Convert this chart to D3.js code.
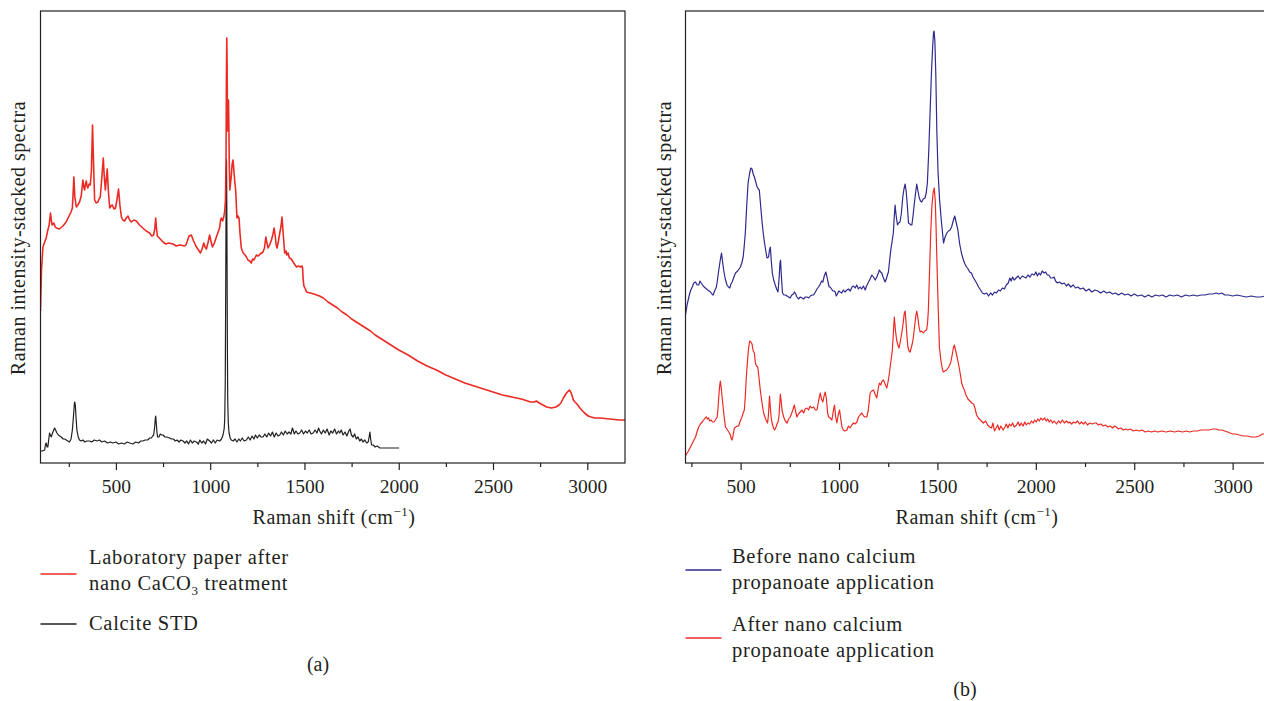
<!DOCTYPE html>
<html>
<head>
<meta charset="utf-8">
<script src="https://cdn.jsdelivr.net/npm/d3@7/dist/d3.min.js"></script>
<style>
  body { margin: 0; background: #fff; }
  text { font-family: "Liberation Serif", "DejaVu Serif", serif; fill: #231f20; }
</style>
</head>
<body>
<svg id="chart" width="1264" height="701"></svg>
<script>
// x ticks every 250 cm-1, labels only on multiples of 500
const tickValues = [250, 500, 750, 1000, 1250, 1500, 1750, 2000, 2250, 2500, 2750, 3000];

// panel (a) - laboratory paper after nano CaCO3 treatment, [shift, intensity]
const labPaper = [[100,150],[105,190],[113,214],[122,219],[130,223],[139,231],[146,236],[153,248],[158,240],[162,236],[171,238],[178,234],[184,233],[200,232],[219,235],[236,239],[254,246],[262,249],[269,253],[273,268],[277,284],[282,264],[290,254],[298,256],[307,259],[316,265],[325,281],[330,274],[334,271],[339,277],[343,280],[347,275],[351,273],[358,277],[364,276],[370,290],[376,336],[381,300],[387,261],[395,258],[404,259],[411,262],[417,264],[426,285],[433,303],[438,285],[444,271],[449,282],[454,292],[460,270],[467,253],[474,255],[481,256],[490,252],[498,253],[506,262],[514,272],[521,256],[529,244],[537,241],[546,240],[555,243],[564,245],[573,241],[582,239],[595,241],[608,240],[625,236],[643,233],[660,230],[679,228],[690,225],[700,226],[706,232],[711,243],[715,233],[720,225],[735,222],[750,219],[765,217],[780,218],[803,217],[820,215],[840,216],[865,215],[871,216],[877,219],[888,225],[900,226],[912,220],[927,214],[938,211],[948,208],[957,212],[966,218],[973,214],[980,212],[988,218],[997,226],[1004,220],[1012,214],[1022,218],[1033,224],[1042,229],[1050,233],[1055,241],[1059,243],[1066,240],[1072,244],[1077,250],[1081,261],[1084,300],[1086,380],[1088,423],[1090,390],[1092,330],[1095,345],[1097,361],[1099,335],[1101,300],[1104,271],[1108,278],[1112,285],[1116,296],[1121,301],[1126,290],[1130,280],[1135,271],[1139,255],[1142,243],[1148,245],[1153,243],[1158,228],[1165,213],[1175,208],[1185,206],[1192,204],[1200,201],[1210,200],[1218,198],[1225,202],[1232,201],[1245,206],[1255,205],[1265,207],[1280,209],[1288,213],[1295,224],[1300,219],[1307,213],[1315,216],[1325,221],[1332,226],[1339,233],[1345,225],[1350,216],[1355,213],[1362,220],[1369,228],[1375,234],[1381,244],[1388,225],[1395,208],[1402,210],[1406,206],[1413,208],[1420,203],[1430,202],[1440,199],[1450,196],[1458,194],[1468,195],[1479,194],[1487,195],[1490,193],[1493,182],[1497,175],[1505,172],[1511,169],[1530,168],[1550,167],[1564,166],[1580,165],[1600,163],[1625,159],[1650,156],[1675,153],[1700,149],[1725,146],[1750,142],[1775,139],[1800,136],[1825,133],[1850,130],[1875,126],[1900,123],[1925,120],[1950,117],[1975,114],[2000,111],[2050,106],[2100,100],[2150,95],[2200,91],[2250,86],[2300,82],[2350,78],[2400,75],[2450,72],[2500,69],[2550,66],[2600,64],[2650,62],[2700,59],[2720,59],[2730,60],[2745,58],[2765,56],[2784,54],[2810,53],[2834,54],[2850,56],[2860,58],[2873,63],[2890,68],[2905,71],[2912,69],[2920,65],[2926,61],[2935,59],[2945,57],[2961,53],[2975,50],[2985,48],[3005,45],[3020,44],[3040,43],[3067,43],[3120,42],[3170,41],[3200,41]];

// panel (a) - calcite standard
const calciteStd = [[100,10],[110,10],[122,11],[126,16],[130,18],[135,14],[139,14],[144,22],[148,28],[152,26],[157,24],[162,27],[166,29],[170,31],[175,33],[180,31],[187,28],[195,26],[202,25],[210,24],[220,22],[228,22],[237,21],[245,20],[254,19],[262,22],[269,31],[275,45],[280,58],[282,59],[285,55],[289,42],[293,31],[300,24],[307,21],[315,20],[325,21],[335,19],[345,20],[360,20],[372,19],[385,21],[400,20],[413,21],[425,19],[440,20],[455,18],[470,19],[484,18],[500,19],[515,17],[530,18],[545,17],[560,19],[573,18],[590,17],[605,19],[620,18],[632,20],[643,20],[655,21],[668,21],[680,23],[688,23],[695,25],[700,26],[705,33],[709,43],[711,45],[714,38],[718,28],[721,24],[728,24],[735,27],[742,26],[750,26],[760,24],[770,24],[785,23],[795,22],[805,22],[815,20],[825,21],[835,19],[845,21],[856,20],[866,18],[876,20],[885,17],[895,21],[905,18],[915,20],[927,19],[937,17],[945,21],[955,18],[965,20],[975,17],[985,22],[997,20],[1007,18],[1017,21],[1027,18],[1037,21],[1050,20],[1060,22],[1068,26],[1074,32],[1077,41],[1080,80],[1083,200],[1085,290],[1086,302],[1087,298],[1089,220],[1091,120],[1093,60],[1096,38],[1100,28],[1106,23],[1112,21],[1122,20],[1132,22],[1142,19],[1152,22],[1160,20],[1170,23],[1180,20],[1192,21],[1202,24],[1212,21],[1222,25],[1232,22],[1240,26],[1250,23],[1260,26],[1270,24],[1280,24],[1290,27],[1300,24],[1310,28],[1320,25],[1330,29],[1340,24],[1350,28],[1360,25],[1369,26],[1378,29],[1388,26],[1398,30],[1408,27],[1418,29],[1428,27],[1436,33],[1440,31],[1446,27],[1455,30],[1465,27],[1475,28],[1485,31],[1495,27],[1505,30],[1515,28],[1525,31],[1535,27],[1546,28],[1556,31],[1566,28],[1575,33],[1581,30],[1590,27],[1600,31],[1610,28],[1620,32],[1631,26],[1640,30],[1650,28],[1660,32],[1670,27],[1680,30],[1687,28],[1695,31],[1705,26],[1715,29],[1725,25],[1735,30],[1742,32],[1749,26],[1758,24],[1766,27],[1775,22],[1784,24],[1793,20],[1802,22],[1810,19],[1820,21],[1830,18],[1838,19],[1843,24],[1847,29],[1851,22],[1856,16],[1865,16],[1875,14],[1885,15],[1900,13],[1950,13],[2002,13]];

// panel (b) - before nano calcium propanoate application
const beforeApp = [[220,146],[228,156],[237,164],[245,170],[254,174],[262,178],[271,179],[279,176],[287,176],[294,180],[300,178],[310,175],[321,173],[333,171],[347,169],[354,167],[360,166],[368,170],[377,174],[383,182],[389,191],[396,200],[403,208],[408,200],[414,191],[422,182],[431,176],[438,174],[445,173],[451,177],[457,179],[466,184],[474,188],[485,190],[499,194],[506,198],[513,204],[518,214],[524,228],[531,255],[538,278],[546,288],[552,293],[558,292],[564,287],[570,284],[577,279],[584,274],[590,272],[595,271],[602,255],[609,239],[615,228],[621,219],[628,210],[634,203],[642,204],[646,210],[651,214],[656,200],[661,188],[668,181],[676,176],[683,172],[690,169],[696,184],[700,198],[703,201],[707,185],[713,168],[720,166],[728,166],[736,165],[744,164],[752,163],[760,166],[768,167],[774,169],[780,167],[786,164],[794,162],[803,164],[812,163],[820,162],[829,164],[837,164],[846,163],[854,165],[863,166],[871,166],[880,169],[888,172],[896,174],[905,177],[912,180],[918,179],[925,185],[933,189],[938,185],[944,179],[950,174],[955,174],[962,172],[969,170],[975,170],[981,169],[986,165],[992,167],[999,170],[1006,169],[1014,168],[1022,171],[1030,169],[1040,171],[1048,172],[1057,170],[1066,174],[1074,175],[1082,173],[1090,176],[1099,172],[1107,174],[1115,172],[1124,175],[1133,171],[1140,175],[1150,179],[1158,182],[1167,186],[1175,184],[1184,181],[1192,184],[1200,188],[1205,191],[1211,189],[1217,188],[1224,184],[1230,181],[1234,179],[1240,182],[1246,186],[1251,189],[1257,200],[1263,211],[1270,220],[1276,228],[1281,245],[1285,256],[1290,246],[1297,236],[1303,238],[1310,239],[1317,248],[1324,264],[1330,272],[1336,277],[1341,270],[1345,261],[1349,250],[1353,238],[1360,237],[1366,236],[1370,236],[1376,245],[1383,258],[1389,268],[1395,277],[1401,270],[1408,263],[1414,260],[1420,259],[1428,262],[1437,263],[1443,268],[1449,278],[1456,310],[1463,350],[1470,390],[1476,415],[1480,428],[1483,430],[1487,420],[1492,385],[1497,330],[1503,290],[1511,261],[1520,240],[1531,218],[1539,224],[1548,228],[1556,230],[1564,231],[1572,234],[1580,240],[1588,245],[1596,238],[1604,231],[1609,223],[1614,216],[1622,208],[1632,201],[1640,197],[1648,194],[1656,192],[1664,189],[1673,188],[1681,184],[1690,181],[1699,178],[1709,174],[1719,171],[1729,168],[1739,167],[1750,168],[1760,165],[1770,168],[1780,166],[1790,169],[1800,168],[1810,171],[1820,170],[1830,173],[1840,172],[1850,176],[1860,178],[1868,183],[1875,180],[1882,184],[1890,181],[1900,183],[1910,185],[1920,182],[1931,185],[1940,184],[1950,183],[1960,186],[1970,184],[1980,187],[1992,186],[2000,189],[2008,185],[2016,188],[2024,186],[2032,190],[2042,188],[2050,189],[2058,186],[2066,186],[2075,183],[2085,183],[2093,184],[2100,180],[2110,178],[2120,179],[2133,177],[2145,178],[2155,175],[2165,177],[2178,174],[2190,176],[2202,173],[2214,174],[2226,172],[2240,173],[2255,170],[2270,172],[2285,169],[2300,171],[2315,170],[2330,168],[2345,170],[2360,168],[2375,169],[2390,167],[2405,168],[2420,166],[2436,168],[2452,166],[2468,167],[2484,165],[2500,167],[2518,165],[2536,166],[2554,164],[2572,166],[2590,164],[2608,166],[2626,165],[2644,166],[2662,164],[2680,166],[2700,165],[2720,166],[2740,164],[2760,166],[2780,165],[2800,166],[2820,165],[2840,166],[2860,166],[2880,167],[2900,167],[2916,168],[2930,167],[2945,168],[2960,166],[2980,166],[3000,165],[3022,166],[3045,165],[3070,164],[3095,165],[3120,164],[3143,164],[3165,165],[3185,164],[3200,165]];

// panel (b) - after nano calcium propanoate application
const afterApp = [[220,5],[225,7],[235,10],[245,14],[258,19],[271,24],[280,30],[287,34],[296,37],[305,39],[312,41],[320,43],[326,44],[331,42],[337,43],[343,40],[350,41],[357,39],[364,39],[372,41],[381,44],[385,52],[389,64],[393,74],[397,80],[401,74],[405,66],[409,58],[416,45],[423,34],[430,32],[440,29],[448,26],[453,22],[457,21],[462,26],[468,33],[476,34],[484,35],[490,35],[498,40],[507,44],[513,48],[519,51],[524,65],[529,84],[535,100],[540,112],[546,120],[552,119],[558,117],[564,110],[570,108],[575,98],[581,95],[587,94],[593,84],[600,71],[608,59],[617,48],[627,42],[637,38],[641,45],[644,55],[647,65],[650,56],[655,44],[660,38],[667,33],[673,31],[680,34],[685,37],[690,39],[695,45],[699,58],[702,67],[706,60],[711,50],[719,44],[727,40],[736,38],[744,42],[752,44],[760,48],[767,52],[773,56],[779,50],[786,44],[794,47],[803,49],[812,51],[820,48],[828,52],[837,53],[845,51],[853,55],[861,53],[871,54],[880,51],[888,51],[896,60],[905,68],[911,62],[918,59],[924,65],[930,69],[936,62],[942,48],[948,44],[955,43],[964,41],[971,50],[977,56],[983,44],[989,38],[996,46],[1003,51],[1009,42],[1015,34],[1022,31],[1030,30],[1040,31],[1048,35],[1056,33],[1065,36],[1074,38],[1082,37],[1091,39],[1099,44],[1107,46],[1116,48],[1125,45],[1133,44],[1141,44],[1148,50],[1154,60],[1158,68],[1166,70],[1175,71],[1183,67],[1192,63],[1198,71],[1205,78],[1212,76],[1219,80],[1226,81],[1234,77],[1243,73],[1250,80],[1256,88],[1260,94],[1266,103],[1271,111],[1276,128],[1281,144],[1287,130],[1293,121],[1299,116],[1305,113],[1312,120],[1319,128],[1326,138],[1331,147],[1336,150],[1340,140],[1345,125],[1350,114],[1356,110],[1361,109],[1368,114],[1373,118],[1378,124],[1386,138],[1391,146],[1395,150],[1400,144],[1406,135],[1412,129],[1420,130],[1428,128],[1436,130],[1445,131],[1450,138],[1454,151],[1460,190],[1466,228],[1472,255],[1478,268],[1484,273],[1489,260],[1493,235],[1496,211],[1503,160],[1510,114],[1518,100],[1525,92],[1530,89],[1538,90],[1547,91],[1557,94],[1567,98],[1575,106],[1581,113],[1586,116],[1592,111],[1601,103],[1610,94],[1617,86],[1623,78],[1630,74],[1637,71],[1645,66],[1655,62],[1665,60],[1674,58],[1684,57],[1692,52],[1699,46],[1708,43],[1718,41],[1733,38],[1745,40],[1755,36],[1765,34],[1775,33],[1782,38],[1790,30],[1798,33],[1806,36],[1814,31],[1822,35],[1834,31],[1843,34],[1850,37],[1858,33],[1866,37],[1874,35],[1882,38],[1890,34],[1902,36],[1910,39],[1918,35],[1926,38],[1935,35],[1944,39],[1952,36],[1960,38],[1969,37],[1978,40],[1986,38],[1994,41],[2002,39],[2010,42],[2018,40],[2026,43],[2034,41],[2045,43],[2053,40],[2060,42],[2068,39],[2076,41],[2085,38],[2093,40],[2105,37],[2115,40],[2125,38],[2135,41],[2145,38],[2155,40],[2165,38],[2172,39],[2182,37],[2192,39],[2202,38],[2212,40],[2222,37],[2232,39],[2242,37],[2252,39],[2262,36],[2274,38],[2286,37],[2298,38],[2307,38],[2318,36],[2330,37],[2342,35],[2354,36],[2366,34],[2378,35],[2390,33],[2400,35],[2409,34],[2420,32],[2432,33],[2444,31],[2456,32],[2468,31],[2480,32],[2495,30],[2510,31],[2525,30],[2540,31],[2556,29],[2572,30],[2588,29],[2604,30],[2620,29],[2640,30],[2662,29],[2684,30],[2705,29],[2725,30],[2745,29],[2765,30],[2781,29],[2800,30],[2820,30],[2840,31],[2860,31],[2880,31],[2900,32],[2916,32],[2930,31],[2945,31],[2960,30],[2975,29],[2987,28],[3000,27],[3015,27],[3034,26],[3055,25],[3075,25],[3095,24],[3118,24],[3135,25],[3152,27],[3170,27],[3200,27]];

const RED = "#ec2a24", BLACK = "#231f20", BLUE = "#2e2a8e";

const svg = d3.select("#chart");

function drawPanel(cfg) {
  const x = d3.scaleLinear().domain(cfg.xDomain).range([cfg.left, cfg.right]);
  const y = d3.scaleLinear().domain([-2, 450]).range([463, 11]);

  const g = svg.append("g").attr("class", cfg.name);

  g.append("clipPath").attr("id", "clip-" + cfg.name)
    .append("rect")
      .attr("x", cfg.left).attr("y", 11)
      .attr("width", cfg.right - cfg.left).attr("height", 452);

  const line = d3.line().x(d => x(d[0])).y(d => y(d[1]));

  cfg.series.forEach(s => {
    g.append("path")
      .datum(s.data)
      .attr("clip-path", "url(#clip-" + cfg.name + ")")
      .attr("fill", "none")
      .attr("stroke", s.color)
      .attr("stroke-width", s.width || 1.2)
      .attr("stroke-linejoin", "round")
      .attr("d", line);
  });

  // frame
  g.append("rect")
    .attr("x", cfg.left).attr("y", 11)
    .attr("width", cfg.right - cfg.left).attr("height", 452)
    .attr("fill", "none").attr("stroke", BLACK).attr("stroke-width", 1.2);

  const xAxis = d3.axisBottom(x)
    .tickValues(tickValues)
    .tickSizeOuter(0)
    .tickSize(4)
    .tickPadding(12)
    .tickFormat(d => d % 500 === 0 ? d : "");

  const ax = g.append("g")
    .attr("transform", "translate(0,463)")
    .call(xAxis);
  ax.select(".domain").remove();
  ax.selectAll(".tick line")
    .attr("stroke", BLACK).attr("stroke-width", 1.2)
    .attr("y2", d => d % 500 === 0 ? 7 : 4);
  ax.selectAll(".tick text")
    .attr("fill", BLACK)
    .style("font-family", '"Liberation Serif", serif')
    .style("font-size", "19.5px");

  // axis titles
  const xt = g.append("text")
    .attr("x", cfg.titleX).attr("y", 524)
    .attr("text-anchor", "middle")
    .style("font-size", "20px")
    .style("letter-spacing", "0.5px");
  xt.append("tspan").text("Raman shift (cm");
  xt.append("tspan").attr("dy", -8).style("font-size", "13px").text("\u22121");
  xt.append("tspan").attr("dy", 8).text(")");

  g.append("text")
    .attr("transform", "translate(" + [cfg.yLabelX, 238] + ") rotate(-90)")
    .attr("text-anchor", "middle")
    .attr("dy", "0.35em")
    .style("font-size", "20px")
    .style("letter-spacing", "0.5px")
    .text("Raman intensity-stacked spectra");

  // legend
  const lg = g.append("g");
  cfg.legend.forEach(item => {
    lg.append("line")
      .attr("x1", cfg.left).attr("x2", cfg.left + 36)
      .attr("y1", item.lineY).attr("y2", item.lineY)
      .attr("stroke", item.color).attr("stroke-width", 1.3);
    item.lines.forEach((l, i) => {
      const t = lg.append("text")
        .attr("x", cfg.legendTextX)
        .attr("y", item.textY + i * 25.5)
        .attr("dy", "0.35em")
        .style("font-size", "20.5px")
        .style("letter-spacing", "0.7px");
      l.forEach(part => {
        const ts = t.append("tspan").text(part.t);
        if (part.sub) ts.attr("dy", 5).style("font-size", "13px");
        if (part.back) ts.attr("dy", -5);
      });
    });
  });

  g.append("text")
    .attr("x", cfg.tagX).attr("y", cfg.tagY)
    .attr("dy", "0.35em")
    .attr("text-anchor", "middle")
    .style("font-size", "20px")
    .text(cfg.tag);
}

drawPanel({
  name: "a",
  xDomain: [100, 3200],
  left: 40.5, right: 625,
  titleX: 334, tagX: 318, yLabelX: 18,
  legendTextX: 89,
  tag: "(a)", tagY: 664,
  series: [
    {data: calciteStd, color: BLACK, width: 1.2},
    {data: labPaper, color: RED, width: 1.6}
  ],
  legend: [
    {color: RED, lineY: 574, textY: 557, lines: [[{t: "Laboratory paper after"}], [{t: "nano CaCO"}, {t: "3", sub: true}, {t: " treatment", back: true}]]},
    {color: BLACK, lineY: 624, textY: 623, lines: [[{t: "Calcite STD"}]]}
  ]
});

drawPanel({
  name: "b",
  xDomain: [220, 3200],
  left: 685.5, right: 1272,
  titleX: 977, tagX: 965, yLabelX: 664,
  legendTextX: 732,
  tag: "(b)", tagY: 689,
  series: [
    {data: beforeApp, color: BLUE, width: 1.2},
    {data: afterApp, color: RED, width: 1.2}
  ],
  legend: [
    {color: BLUE, lineY: 570, textY: 556, lines: [[{t: "Before nano calcium"}], [{t: "propanoate application"}]]},
    {color: RED, lineY: 638, textY: 624, lines: [[{t: "After nano calcium"}], [{t: "propanoate application"}]]}
  ]
});
</script>
</body>
</html>
